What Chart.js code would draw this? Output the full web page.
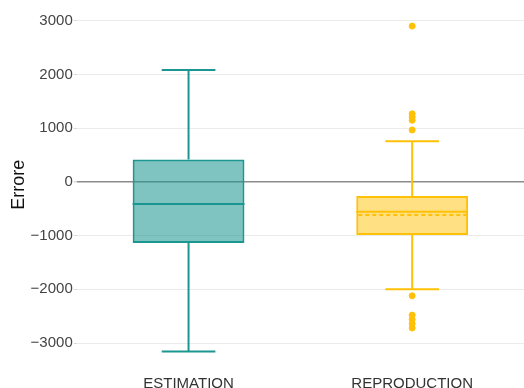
<!DOCTYPE html>
<html>
<head>
<meta charset="utf-8">
<script src="https://cdn.jsdelivr.net/npm/chart.js@4"></script>
<style>
  html, body { margin: 0; padding: 0; background: #fff; }
  #wrap { width: 524px; height: 388px; }
</style>
</head>
<body>
<div id="wrap"><canvas id="boxChart"></canvas></div>
<script>
// dati
const categories = ['ESTIMATION', 'REPRODUCTION'];
const whiskerLow = [-3160, -2000];
const q1 = [-1135, -985];
const median = [-410, -555];
const q3 = [420, -260];
const whiskerHigh = [2085, 760];
const means = [null, -615];
const outlierValues = [2905, 1270, 1210, 1150, 970, -2120, -2480, -2560, -2640, -2720];
const outlierCategory = 'REPRODUCTION';
const yTicks = [-3000, -2000, -1000, 0, 1000, 2000, 3000];

const lineColors = ['#1b9690', '#ffc107'];
const fillColors = ['rgba(27,150,144,0.56)', 'rgba(255,193,7,0.5)'];

// baffi, mediana e media disegnati con le scale del grafico
const boxPlugin = {
    id: 'boxWhiskers',
    beforeDatasetsDraw(chart) {
        const ctx = chart.ctx;
        const y = chart.scales.y;
        const meta = chart.getDatasetMeta(0);
        meta.data.forEach((bar, i) => {
            const cx = bar.x;
            const cap = bar.width * 0.24;
            ctx.save();
            ctx.strokeStyle = lineColors[i];
            ctx.lineWidth = 2;
            ctx.beginPath();
            ctx.moveTo(cx, y.getPixelForValue(q3[i]));
            ctx.lineTo(cx, y.getPixelForValue(whiskerHigh[i]));
            ctx.moveTo(cx, y.getPixelForValue(q1[i]));
            ctx.lineTo(cx, y.getPixelForValue(whiskerLow[i]));
            ctx.moveTo(cx - cap, y.getPixelForValue(whiskerHigh[i]));
            ctx.lineTo(cx + cap, y.getPixelForValue(whiskerHigh[i]));
            ctx.moveTo(cx - cap, y.getPixelForValue(whiskerLow[i]));
            ctx.lineTo(cx + cap, y.getPixelForValue(whiskerLow[i]));
            ctx.stroke();
            ctx.restore();
        });
    },
    afterDatasetsDraw(chart) {
        const ctx = chart.ctx;
        const y = chart.scales.y;
        const meta = chart.getDatasetMeta(0);
        meta.data.forEach((bar, i) => {
            const left = bar.x - bar.width / 2;
            const right = bar.x + bar.width / 2;
            ctx.save();
            ctx.strokeStyle = lineColors[i];
            ctx.lineWidth = 2;
            ctx.beginPath();
            ctx.moveTo(left, y.getPixelForValue(median[i]));
            ctx.lineTo(right, y.getPixelForValue(median[i]));
            ctx.stroke();
            if (means[i] !== null) {
                ctx.setLineDash([4, 3]);
                ctx.beginPath();
                ctx.moveTo(left + 2, y.getPixelForValue(means[i]));
                ctx.lineTo(right - 2, y.getPixelForValue(means[i]));
                ctx.stroke();
            }
            ctx.restore();
        });
    }
};

const fontFamily = '"Liberation Sans", Arial, sans-serif';

new Chart(document.getElementById('boxChart').getContext('2d'), {
    type: 'bar',
    data: {
        labels: categories,
        datasets: [
            {
                label: 'box',
                data: categories.map((c, i) => [q1[i], q3[i]]),
                backgroundColor: fillColors,
                borderColor: lineColors,
                borderWidth: 2,
                borderSkipped: false,
                barPercentage: 0.5,
                categoryPercentage: 1.0,
                order: 2
            },
            {
                type: 'scatter',
                label: 'outlier',
                data: outlierValues.map(v => ({ x: outlierCategory, y: v })),
                backgroundColor: lineColors[1],
                borderColor: lineColors[1],
                pointRadius: 3,
                showLine: false,
                order: 1
            }
        ]
    },
    options: {
        responsive: true,
        maintainAspectRatio: false,
        animation: false,
        layout: { autoPadding: false, padding: { top: 5, right: 0, bottom: 0, left: 0 } },
        plugins: {
            legend: { display: false },
            tooltip: { enabled: false }
        },
        scales: {
            x: {
                type: 'category',
                afterFit: function(scale) {
                    scale.paddingLeft = 0;
                    scale.paddingRight = 0;
                    scale.height = 23.5;
                },
                grid: { display: false, drawTicks: false },
                border: { display: false },
                ticks: {
                    color: '#333',
                    font: { family: fontFamily, size: 15 },
                    padding: 10
                }
            },
            y: {
                min: -3400,
                max: 3298,
                afterBuildTicks: function(scale) {
                    scale.ticks = yTicks.map(v => ({ value: v }));
                },
                afterFit: function(scale) {
                    scale.paddingTop = 0;
                    scale.paddingBottom = 0;
                },
                grid: {
                    color: ctx => (ctx.tick && ctx.tick.value === 0) ? '#8c8c8c' : '#ebebeb',
                    lineWidth: ctx => (ctx.tick && ctx.tick.value === 0) ? 1.5 : 1,
                    tickColor: '#d9d9d9',
                    tickLength: 3
                },
                border: { display: false },
                ticks: {
                    color: '#444',
                    font: { family: fontFamily, size: 15 },
                    padding: 1,
                    callback: v => v < 0 ? '\u2212' + Math.abs(v) : String(v)
                },
                title: {
                    display: true,
                    text: 'Errore',
                    color: '#111',
                    font: { family: fontFamily, size: 18 },
                    padding: { top: 8, bottom: 0 }
                }
            }
        }
    },
    plugins: [boxPlugin]
});
</script>
</body>
</html>
